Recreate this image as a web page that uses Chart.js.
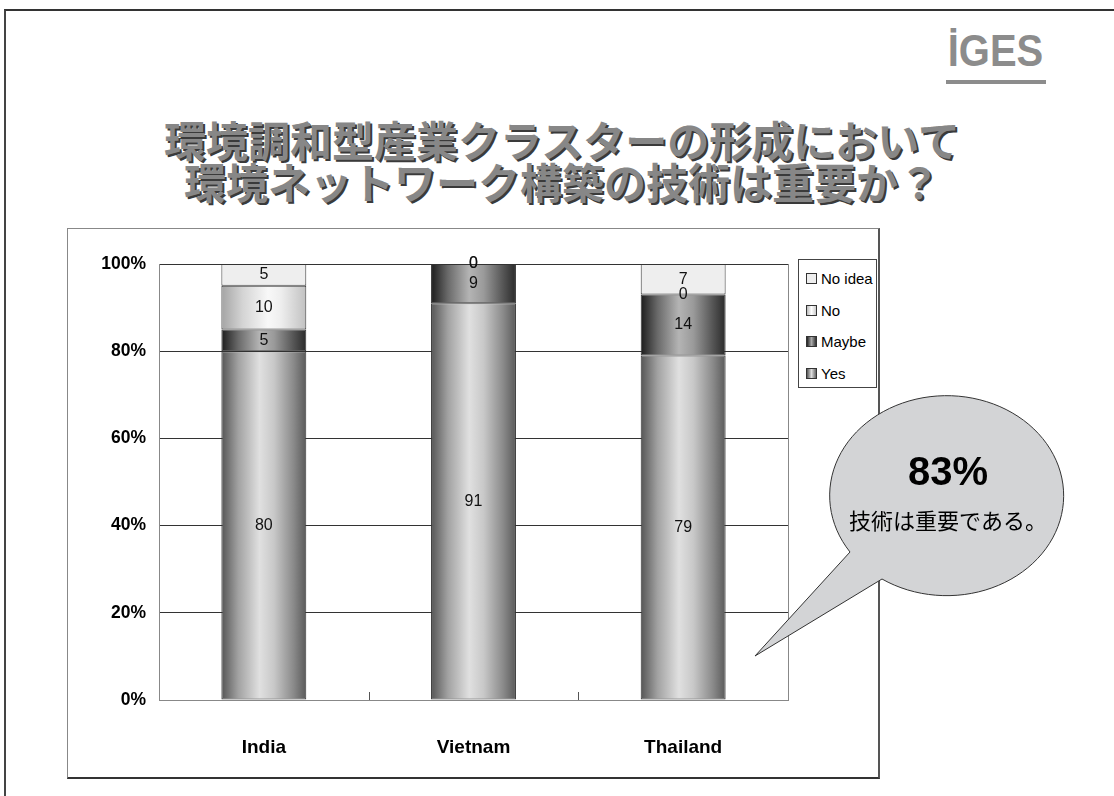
<!DOCTYPE html>
<html lang="ja">
<head>
<meta charset="utf-8">
<title>環境ネットワーク構築の技術</title>
<script src="https://cdn.jsdelivr.net/npm/chart.js@4/dist/chart.umd.min.js"></script>
<style>
  html, body { margin: 0; padding: 0; background: #fff; }
  body { width: 1114px; height: 796px; position: relative; overflow: hidden; font-family: "Liberation Sans", Arial, sans-serif; }
  .frame { position: absolute; left: 4px; top: 9px; right: -10px; bottom: -10px; border-top: 2px solid #333; border-left: 2px solid #444; }
  .logo { position: absolute; left: 944px; top: 30px; width: 103px; text-align: center; font: bold 40px "Liberation Sans", sans-serif; color: #8c8c8c; line-height: 46px; transform: scaleY(1.12); transform-origin: 50% 100%; }
  .logo-line { position: absolute; left: 946px; top: 80px; width: 100px; height: 4px; background: #8c8c8c; }
  .title { position: absolute; left: 0; top: 118px; width: 1124px; text-align: center; font: bold 42px "Noto Sans CJK JP", sans-serif; line-height: 42px; color: #878787; text-shadow: 2px 2px 0 #3a3a3a; white-space: nowrap; }
  .chartbox { position: absolute; left: 67px; top: 228px; width: 810px; height: 548px; border-left: 1px solid #888; border-top: 1px solid #888; border-right: 2px solid #555; border-bottom: 2px solid #333; box-sizing: content-box; }
  .legend { position: absolute; left: 798px; top: 259px; width: 77px; height: 127px; border: 1px solid #444; background: #fff; font: 15px "Liberation Sans", sans-serif; }
  .legend div { position: absolute; left: 7px; height: 20px; line-height: 20px; white-space: nowrap; }
  .legend span.sw { display: inline-block; width: 9px; height: 9px; border: 1px solid #333; margin-right: 4px; vertical-align: 0px; }
  .bubble { position: absolute; left: 0; top: 0; }
  .bubble-big { position: absolute; left: 848px; top: 449px; width: 200px; text-align: center; font: bold 40px "Liberation Sans", Arial, sans-serif; }
  .bubble-small { position: absolute; left: 838px; top: 503px; width: 220px; text-align: center; font: 22px "Noto Sans CJK JP", sans-serif; }
</style>
</head>
<body>
<div class="frame"></div>
<div class="logo">İGES</div>
<div class="logo-line"></div>
<div class="title">環境調和型産業クラスターの形成において<br>環境ネットワーク構築の技術は重要か？</div>

<div class="chartbox"><canvas id="chart" width="810" height="548"></canvas></div>
<div class="legend" id="legend"></div>

<svg class="bubble" width="1114" height="796">
  <path d="M 850 552 L 755 656 L 882 579 A 117 100 0 1 0 850 552 Z" fill="#d3d4d6" stroke="#333" stroke-width="1"/>
</svg>
<div class="bubble-big" id="bigValue"></div>
<div class="bubble-small">技術は重要である。</div>

<script>
// survey answers per country (percent)
const countries = ["India", "Vietnam", "Thailand"];
const seriesNames = ["Yes", "Maybe", "No", "No idea"];
const yesValues = [80, 91, 79];
const maybeValues = [5, 9, 14];
const noValues = [10, 0, 0];
const noIdeaValues = [5, 0, 7];
const yTickStep = 20;

const barPct = 0.405;
const labelFont = "'Liberation Sans', Arial, sans-serif";

// horizontal shading for each series, edge -> centre -> edge
const shades = {
    "Yes": [["#555555", 0], ["#a2a2a2", 0.2], ["#e0e0e0", 0.45], ["#c8c8c8", 0.62], ["#8a8a8a", 0.85], ["#5a5a5a", 1]],
    "Maybe": [["#1c1c1c", 0], ["#6a6a6a", 0.2], ["#b4b4b4", 0.45], ["#9a9a9a", 0.62], ["#555555", 0.85], ["#2a2a2a", 1]],
    "No": [["#a4a4a4", 0], ["#d4d4d4", 0.25], ["#f8f8f8", 0.55], ["#eeeeee", 0.7], ["#d0d0d0", 0.9], ["#c0c0c0", 1]],
    "No idea": [["#eeeeee", 0], ["#eeeeee", 1]]
};

function shade(name) {
    return (ctx) => {
        const stops = shades[name];
        const chart = ctx.chart;
        if (ctx.type !== "data" || !chart.chartArea) return stops[0][0];
        const xs = chart.scales.x;
        const cx = xs.getPixelForValue(ctx.dataIndex);
        const w = xs.width / countries.length * barPct;
        const g = chart.ctx.createLinearGradient(cx - w / 2, 0, cx + w / 2, 0);
        stops.forEach(s => g.addColorStop(s[1], s[0]));
        return g;
    };
}

const seriesValues = [yesValues, maybeValues, noValues, noIdeaValues];
const datasets = seriesNames.map((name, i) => ({
    label: name,
    data: seriesValues[i],
    backgroundColor: shade(name),
    borderColor: "#333",
    borderWidth: 1,
    borderSkipped: false,
    barPercentage: barPct,
    categoryPercentage: 1
}));

// number in the middle of every segment
const segmentLabels = {
    id: "segmentLabels",
    afterDatasetsDraw(chart) {
        const c = chart.ctx;
        c.save();
        c.font = "16px " + labelFont;
        c.fillStyle = "#111";
        c.textAlign = "center";
        c.textBaseline = "middle";
        chart.data.datasets.forEach((ds, i) => {
            chart.getDatasetMeta(i).data.forEach((bar, j) => {
                const p = bar.getProps(["x", "y", "base"], true);
                c.fillText(String(ds.data[j]), p.x, (p.y + p.base) / 2);
            });
        });
        c.restore();
    }
};

// short tick marks between categories, pointing up from the axis
const innerTicks = {
    id: "innerTicks",
    afterDraw(chart) {
        const xs = chart.scales.x;
        const bottom = chart.chartArea.bottom;
        const c = chart.ctx;
        c.save();
        c.strokeStyle = "#555";
        c.lineWidth = 1;
        for (let i = 0; i < countries.length - 1; i++) {
            const x = Math.round((xs.getPixelForValue(i) + xs.getPixelForValue(i + 1)) / 2) + 0.5;
            c.beginPath();
            c.moveTo(x, bottom);
            c.lineTo(x, bottom - 8);
            c.stroke();
        }
        c.restore();
    }
};

new Chart(document.getElementById("chart"), {
    type: "bar",
    data: { labels: countries, datasets: datasets },
    options: {
        responsive: false,
        animation: false,
        layout: { padding: { top: 35 } },
        plugins: { legend: { display: false }, tooltip: { enabled: false } },
        scales: {
            x: {
                stacked: true,
                afterFit: (s) => { s.height = 77; },
                grid: { display: false },
                border: { color: "#888", width: 1 },
                ticks: { color: "#000", padding: 28, font: { family: labelFont, size: 19, weight: "bold" } }
            },
            y: {
                stacked: true,
                min: 0,
                max: 100,
                afterFit: (s) => { s.width = 91; },
                grid: { color: "#333", drawTicks: false },
                border: { color: "#888", width: 1 },
                ticks: {
                    stepSize: yTickStep,
                    padding: 13,
                    color: "#000",
                    font: { family: labelFont, size: 17.5, weight: "bold" },
                    callback: (v) => v + "%"
                }
            },
            y2: {
                position: "right",
                min: 0,
                max: 100,
                afterFit: (s) => { s.width = 90; },
                grid: { display: false },
                border: { color: "#888", width: 1 },
                ticks: { display: false }
            }
        }
    },
    plugins: [segmentLabels, innerTicks]
});

// legend, top entry is the top of the stack
const swatchCss = {
    "Yes": "linear-gradient(90deg, #555, #ddd 50%, #666)",
    "Maybe": "linear-gradient(90deg, #222, #aaa 50%, #333)",
    "No": "linear-gradient(90deg, #bbb, #fff 50%, #ccc)",
    "No idea": "#eee"
};
const legendEl = document.getElementById("legend");
seriesNames.slice().reverse().forEach((name, i) => {
    const row = document.createElement("div");
    row.style.top = (9 + i * 31.5) + "px";
    row.innerHTML = `<span class="sw" style="background:${swatchCss[name]}"></span>${name}`;
    legendEl.appendChild(row);
});

// average share of "Yes" across the countries
const avgYes = Math.round(yesValues.reduce((a, b) => a + b, 0) / yesValues.length);
document.getElementById("bigValue").textContent = avgYes + "%";
</script>
</body>
</html>
